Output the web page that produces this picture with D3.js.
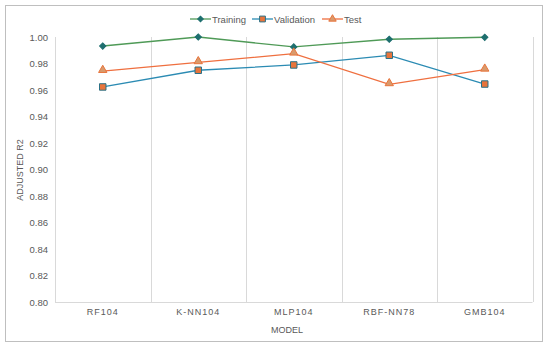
<!DOCTYPE html>
<html>
<head>
<meta charset="utf-8">
<script src="https://cdn.jsdelivr.net/npm/d3@7"></script>
<style>
  body { margin: 0; background: #fff; }
  text { font-family: "Liberation Sans", Arial, sans-serif; fill: #595959; }
</style>
</head>
<body>
<div id="chart"></div>
<script>
// data
var models = ["RF104", "K-NN104", "MLP104", "RBF-NN78", "GMB104"];
var training = [0.9932, 1.0000, 0.9925, 0.9983, 0.9998];
var validation = [0.9623, 0.9749, 0.9789, 0.9862, 0.9645];
var test = [0.9743, 0.9809, 0.9874, 0.9643, 0.9753];
var yTicks = [0.80, 0.82, 0.84, 0.86, 0.88, 0.90, 0.92, 0.94, 0.96, 0.98, 1.00];

var width = 550, height = 348;
var plotLeft = 55, plotRight = 532.5, plotTop = 37, plotBottom = 302;

var svg = d3.select("#chart").append("svg")
    .attr("width", width)
    .attr("height", height);

// outer frame
svg.append("rect")
    .attr("x", 5.5).attr("y", 5.5)
    .attr("width", 537).attr("height", 336)
    .attr("fill", "#fff")
    .attr("stroke", "#bfbfbf");

var xScale = d3.scaleBand()
    .domain(models)
    .range([plotLeft, plotRight]);

var yScale = d3.scaleLinear()
    .domain([0.80, 1.00])
    .range([plotBottom, plotTop]);

// vertical gridlines between categories
var gridX = models.map(function(m){ return xScale(m); }).concat([plotRight]);
svg.selectAll(".vgrid")
    .data(gridX)
    .enter().append("line")
    .attr("class", "vgrid")
    .attr("x1", function(d){ return Math.round(d) + 0.5; })
    .attr("x2", function(d){ return Math.round(d) + 0.5; })
    .attr("y1", plotTop)
    .attr("y2", plotBottom)
    .attr("stroke", "#d9d9d9");

// bottom axis line
svg.append("line")
    .attr("x1", plotLeft).attr("x2", plotRight)
    .attr("y1", plotBottom + 0.5).attr("y2", plotBottom + 0.5)
    .attr("stroke", "#d9d9d9");

// y axis labels
var yAxis = svg.append("g")
    .attr("transform", "translate(" + plotLeft + ",0)")
    .call(d3.axisLeft(yScale).tickValues(yTicks).tickFormat(d3.format(".2f")).tickSize(0).tickPadding(7));
yAxis.select(".domain").remove();
yAxis.selectAll("text")
    .style("font-family", "Liberation Sans, Arial, sans-serif")
    .style("font-size", "9.5px")
    .attr("fill", "#595959");

// x axis labels
var xAxis = svg.append("g")
    .attr("transform", "translate(0," + plotBottom + ")")
    .call(d3.axisBottom(xScale).tickSize(0).tickPadding(7));
xAxis.select(".domain").remove();
xAxis.selectAll("text")
    .style("font-family", "Liberation Sans, Arial, sans-serif")
    .style("font-size", "9px")
    .style("letter-spacing", "1px")
    .attr("fill", "#595959");

// axis titles
svg.append("text")
    .attr("x", 287).attr("y", 333)
    .attr("text-anchor", "middle")
    .style("font-size", "9px")
    .text("MODEL");

svg.append("text")
    .attr("transform", "translate(23,170) rotate(-90)")
    .attr("text-anchor", "middle")
    .style("font-size", "9px")
    .text("ADJUSTED R2");

// diamond = square turned 45 degrees
var series = [
    { name: "Training", values: training, line: "#4f9a57", fill: "#1e6f6f", stroke: "#1e6f6f", shape: d3.symbolSquare, rot: 45, size: 20 },
    { name: "Validation", values: validation, line: "#2b8bb3", fill: "#e8743b", stroke: "#2a7187", shape: d3.symbolSquare, rot: 0, size: 42 },
    { name: "Test", values: test, line: "#ef6f3f", fill: "#d99a6c", stroke: "#e8743b", shape: d3.symbolTriangle, rot: 0, size: 30 }
];

var cx = function(i){ return xScale(models[i]) + xScale.bandwidth() / 2; };

var line = d3.line()
    .x(function(d, i){ return cx(i); })
    .y(function(d){ return yScale(d); });

series.forEach(function(s){
    svg.append("path")
        .datum(s.values)
        .attr("d", line)
        .attr("fill", "none")
        .attr("stroke", s.line)
        .attr("stroke-width", 1.3);
});

series.forEach(function(s){
    svg.selectAll(null)
        .data(s.values)
        .enter().append("path")
        .attr("d", d3.symbol().type(s.shape).size(s.size))
        .attr("transform", function(d, i){
            var dy = s.shape === d3.symbolTriangle ? -1 : 0;
            return "translate(" + cx(i) + "," + (yScale(d) + dy) + ") rotate(" + s.rot + ")";
        })
        .attr("fill", s.fill)
        .attr("stroke", s.stroke)
        .attr("stroke-width", 1);
});

// legend
var legendX = [190, 252, 322];
var legend = svg.selectAll(".legend")
    .data(series)
    .enter().append("g")
    .attr("class", "legend")
    .attr("transform", function(d, i){ return "translate(" + legendX[i] + ",19)"; });

legend.append("line")
    .attr("x1", 0).attr("x2", 21)
    .attr("stroke", function(d){ return d.line; })
    .attr("stroke-width", 1.3);

legend.append("path")
    .attr("d", function(d){ return d3.symbol().type(d.shape).size(d.size * 0.8)(); })
    .attr("transform", function(d){ return "translate(10.5,0) rotate(" + d.rot + ")"; })
    .attr("fill", function(d){ return d.fill; })
    .attr("stroke", function(d){ return d.stroke; });

legend.append("text")
    .attr("x", 22).attr("y", 3.5)
    .style("font-size", "9.5px")
    .text(function(d){ return d.name; });
</script>
</body>
</html>
